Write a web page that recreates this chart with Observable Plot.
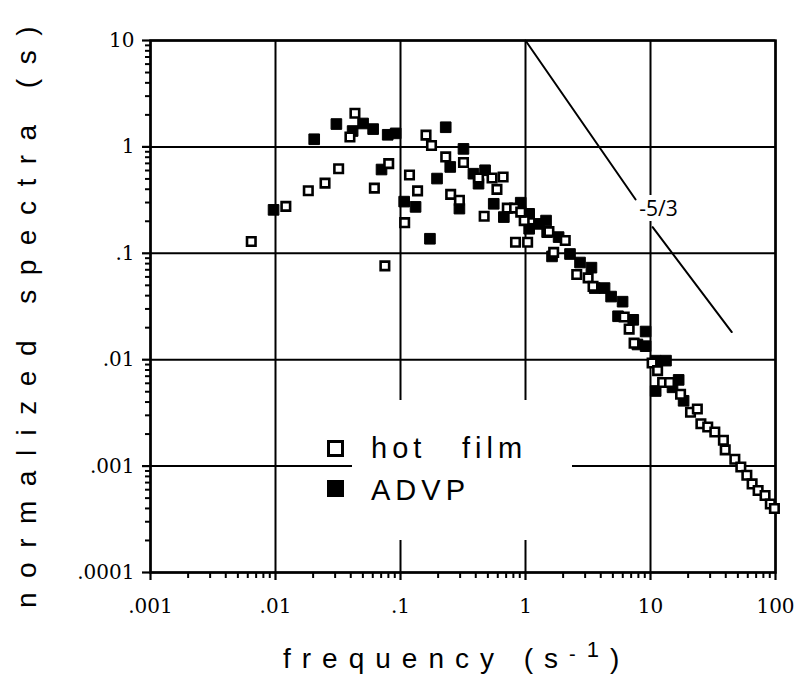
<!DOCTYPE html>
<html>
<head>
<meta charset="utf-8">
<script src="https://cdn.jsdelivr.net/npm/d3@7"></script>
<script src="https://cdn.jsdelivr.net/npm/@observablehq/plot@0.6"></script>
<style>
  html, body { margin: 0; padding: 0; background: white; }
  #chart { width: 804px; height: 694px; }
</style>
</head>
<body>
<div id="chart"></div>
<script>
// ---- Data ----
const hotFilmFreq = [0.0064, 0.0121, 0.0183, 0.0249, 0.032, 0.0432, 0.0394, 0.0618, 0.0805, 0.075,
  0.16, 0.177, 0.118, 0.137, 0.108, 0.23, 0.319, 0.252, 0.296, 0.421,
  0.54, 0.662, 0.591, 0.467, 0.715, 0.818, 0.976, 0.832, 1.04, 0.916,
  1.54, 2.08, 1.68, 2.57, 3.17, 3.47, 6.16, 6.75, 7.39, 10.3,
  11.4, 12.5, 14.2, 17.4, 20.9, 23.7, 25.3, 28.7, 32.7, 38.3,
  39.6, 47.3, 52.8, 59.0, 65.0, 72.6, 82.5, 90.9, 98];
const hotFilmSpec = [0.129, 0.276, 0.387, 0.457, 0.624, 2.07, 1.24, 0.41, 0.696, 0.0762,
  1.29, 1.03, 0.544, 0.386, 0.194, 0.805, 0.714, 0.358, 0.315, 0.51,
  0.51, 0.521, 0.399, 0.223, 0.266, 0.266, 0.203, 0.127, 0.127, 0.244,
  0.16, 0.132, 0.102, 0.0632, 0.0588, 0.0489, 0.0252, 0.0194, 0.0143, 0.0093,
  0.0079, 0.0061, 0.0061, 0.00474, 0.00321, 0.00344, 0.0025, 0.00233, 0.00209, 0.00175,
  0.00142, 0.00116, 0.00098, 0.00082, 0.00068, 0.00059, 0.00053, 0.00044, 0.0004];

const advpFreq = [0.00965, 0.0204, 0.0307, 0.0502, 0.0414, 0.0604, 0.079, 0.0915, 0.0705, 0.23,
  0.107, 0.132, 0.172, 0.196, 0.25, 0.296, 0.319, 0.383, 0.421, 0.475,
  0.557, 0.671, 0.916, 1.07, 1.07, 1.28, 1.46, 1.49, 1.84, 1.63,
  2.27, 2.73, 3.37, 3.58, 4.29, 4.84, 5.98, 5.5, 7.28, 9.14,
  7.86, 9.14, 11.0, 13.3, 11.0, 16.8, 18.4, 15.0];
const advpSpec = [0.256, 1.18, 1.64, 1.66, 1.41, 1.47, 1.30, 1.34, 0.613, 1.53,
  0.306, 0.273, 0.137, 0.504, 0.648, 0.263, 0.958, 0.56, 0.451, 0.603,
  0.292, 0.219, 0.299, 0.235, 0.170, 0.189, 0.203, 0.158, 0.142, 0.0935,
  0.0985, 0.0819, 0.0733, 0.0471, 0.0471, 0.0392, 0.0351, 0.0256, 0.0237, 0.0184,
  0.0139, 0.0134, 0.0098, 0.0098, 0.00508, 0.00646, 0.00411, 0.0055];

// -5/3 reference slope, drawn in two pieces around its label
const slopeFreqA = [1, 7.6];
const slopeSpecA = [10, 0.32];
const slopeFreqB = [10.4, 44.7];
const slopeSpecB = [0.176, 0.0182];
const slopeLabel = "-5/3";
const slopeLabelFreq = 11.6;
const slopeLabelSpec = 0.26;

// Ticks
const xTicks = [0.001, 0.01, 0.1, 1, 10, 100];
const xTickLabels = [".001", ".01", ".1", "1", "10", "100"];
const yTicks = [0.0001, 0.001, 0.01, 0.1, 1, 10];
const yTickLabels = [".0001", ".001", ".01", ".1", "1", "10"];
const minorMultipliers = [2, 3, 4, 5, 6, 7, 8, 9];

const seriesNames = ["hot film", "ADVP"];
const xTitle = "frequency (s";
const yTitle = "normalized spectra (s)";

// ---- Build ----
const hot = hotFilmFreq.map((f, i) => ({f, s: hotFilmSpec[i]}));
const advp = advpFreq.map((f, i) => ({f, s: advpSpec[i]}));
const xLab = new Map(xTicks.map((d, i) => [d, xTickLabels[i]]));
const yLab = new Map(yTicks.map((d, i) => [d, yTickLabels[i]]));
const xDom = [xTicks[0], xTicks[xTicks.length - 1]];
const yDom = [yTicks[0], yTicks[yTicks.length - 1]];
const xMinor = xTicks.slice(0, -1).flatMap(t => minorMultipliers.map(m => t * m));
const yMinor = yTicks.slice(0, -1).flatMap(t => minorMultipliers.map(m => t * m));

const tickFont = "DejaVu Serif";

const chart = Plot.plot({
  width: 804,
  height: 694,
  marginLeft: 150,
  marginRight: 29,
  marginTop: 40,
  marginBottom: 122,
  x: {type: "log", domain: xDom},
  y: {type: "log", domain: yDom},
  style: {fontSize: "20px", color: "black", background: "white"},
  marks: [
    Plot.gridX(xTicks, {stroke: "black", strokeOpacity: 1, strokeWidth: 2}),
    Plot.gridY(yTicks, {stroke: "black", strokeOpacity: 1, strokeWidth: 2}),
    Plot.axisX(xMinor, {tickSize: 6, tickFormat: () => "", strokeWidth: 2, label: null}),
    Plot.axisY(yMinor, {tickSize: 5, tickFormat: () => "", strokeWidth: 2, label: null}),
    Plot.axisX(xTicks, {tickSize: 8, tickPadding: 18, tickFormat: d => xLab.get(d), strokeWidth: 2.2, label: null,
      fontSize: 20, fontFamily: tickFont}),
    Plot.axisY(yTicks, {tickSize: 8, tickPadding: 8, tickFormat: d => yLab.get(d), strokeWidth: 2.2, label: null,
      fontSize: 20, fontFamily: tickFont}),
    Plot.frame({stroke: "black", strokeWidth: 2.5}),
    Plot.text([slopeLabel], {x: () => slopeLabelFreq, y: () => slopeLabelSpec, text: d => d,
      fontFamily: "Open Sans", fontSize: 21, fill: "black",
      stroke: "white", strokeWidth: 10}),
    Plot.line(d3.zip(slopeFreqA, slopeSpecA), {stroke: "black", strokeWidth: 2}),
    Plot.line(d3.zip(slopeFreqB, slopeSpecB), {stroke: "black", strokeWidth: 2}),
    Plot.dot(advp, {x: "f", y: "s", symbol: "square", r: 6, fill: "black", stroke: "black", strokeWidth: 1}),
    Plot.dot(hot, {x: "f", y: "s", symbol: "square", r: 4.8, fill: "white", stroke: "black", strokeWidth: 2.6})
  ]
});

const svg = d3.select(chart);
const sansFont = "Liberation Sans";

// Legend (with white backing that interrupts the grid, as in the original)
svg.append("rect").attr("x", 352).attr("y", 400).attr("width", 220).attr("height", 140).attr("fill", "white");
svg.append("rect").attr("x", 328.5).attr("y", 441.5).attr("width", 14).attr("height", 14)
  .attr("fill", "white").attr("stroke", "black").attr("stroke-width", 3);
svg.append("rect").attr("x", 327).attr("y", 480).attr("width", 17).attr("height", 17).attr("fill", "black");
const nameParts = seriesNames[0].split(" ");
const legText = (x, y, t) => svg.append("text").attr("x", x).attr("y", y).attr("text-anchor", "start")
  .attr("font-family", sansFont).attr("font-size", 29).attr("letter-spacing", 5).attr("fill", "black").text(t);
legText(371, 458, nameParts[0]);
legText(462, 458, nameParts[1]);
legText(371, 500, seriesNames[1]);

// X axis title with superscript
const xl = svg.append("text").attr("x", 283).attr("y", 668).attr("text-anchor", "start")
  .attr("font-family", sansFont).attr("font-size", 28).attr("letter-spacing", 11).attr("fill", "black");
xl.append("tspan").text(xTitle);
xl.append("tspan").attr("font-size", 20).attr("dy", -7).text("-");
xl.append("tspan").attr("font-size", 22).attr("dy", -4).text("1");
xl.append("tspan").attr("font-size", 28).attr("dy", 11).text(")");

// Y axis title
svg.append("text").attr("transform", "translate(36,310) rotate(-90)").attr("text-anchor", "middle")
  .attr("font-family", sansFont).attr("font-size", 28).attr("letter-spacing", 14.5).attr("fill", "black")
  .text(yTitle);

document.getElementById("chart").appendChild(chart);
</script>
</body>
</html>
